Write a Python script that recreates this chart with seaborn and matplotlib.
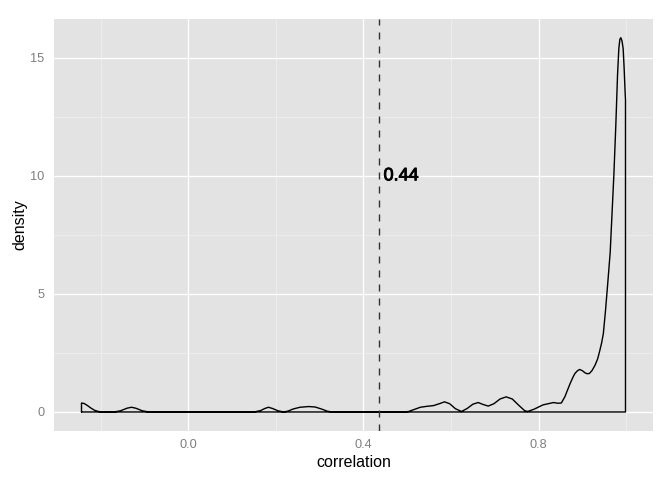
import matplotlib
matplotlib.use("Agg")
import matplotlib.pyplot as plt
import matplotlib.patheffects as pe
import seaborn as sns
import pandas as pd


# density curve (x = correlation, y = density)
corr_x = [-0.244, -0.238, -0.231, -0.222, -0.214, -0.205, -0.195, -0.170,
          -0.155, -0.140, -0.130, -0.120, -0.105, -0.090,
          0.150, 0.165, 0.175, 0.183, 0.192, 0.205, 0.218, 0.228, 0.240,
          0.255, 0.275, 0.290, 0.305, 0.318, 0.330,
          0.490, 0.503, 0.515, 0.530, 0.545, 0.560, 0.575, 0.585, 0.597,
          0.610, 0.624, 0.637, 0.650, 0.662, 0.673, 0.685, 0.698, 0.712,
          0.726, 0.740, 0.755, 0.768, 0.775, 0.790, 0.810, 0.834, 0.844,
          0.852, 0.860, 0.866, 0.872, 0.878, 0.883, 0.889, 0.894, 0.900,
          0.906, 0.911, 0.916, 0.922, 0.929, 0.935, 0.940, 0.944, 0.948,
          0.953, 0.958, 0.9636, 0.968, 0.972, 0.9765, 0.9804, 0.9834,
          0.9857, 0.9879, 0.9905, 0.9932, 0.9955, 0.9977, 0.9986]
corr_density = [0.38, 0.36, 0.28, 0.16, 0.07, 0.02, 0.0, 0.0,
                0.05, 0.16, 0.20, 0.16, 0.05, 0.0,
                0.0, 0.06, 0.15, 0.20, 0.15, 0.05, 0.0, 0.04, 0.13,
                0.20, 0.23, 0.21, 0.12, 0.03, 0.0,
                0.0, 0.02, 0.10, 0.20, 0.24, 0.27, 0.36, 0.43, 0.35,
                0.14, 0.02, 0.15, 0.33, 0.40, 0.32, 0.25, 0.35, 0.55,
                0.64, 0.55, 0.28, 0.06, 0.02, 0.12, 0.30, 0.40, 0.37,
                0.38, 0.64, 0.92, 1.20, 1.45, 1.63, 1.75, 1.80, 1.75,
                1.66, 1.62, 1.63, 1.75, 1.98, 2.25, 2.61, 2.92, 3.32,
                4.31, 5.44, 6.75, 8.47, 10.03, 12.15, 14.27, 15.40,
                15.78, 15.85, 15.72, 15.40, 14.55, 13.56, 13.20]

mean_corr = 0.436
label_y = 10

# close the outline like ggplot's density polygon
poly_x = [corr_x[0]] + corr_x + [corr_x[-1], corr_x[0]]
poly_y = [0] + corr_density + [0, 0]
df = pd.DataFrame({"correlation": poly_x, "density": poly_y})

sns.set_theme(style="darkgrid", rc={
    "axes.facecolor": "#E3E3E3",
    "grid.color": "white",
    "grid.linewidth": 1.0,
    "xtick.major.size": 4.25,
    "ytick.major.size": 4.25,
    "xtick.major.width": 0.8,
    "ytick.major.width": 0.8,
    "xtick.color": "#7F7F7F",
    "ytick.color": "#7F7F7F",
    "xtick.major.pad": 2,
    "ytick.major.pad": 3,
    "axes.labelcolor": "black",
})
plt.rcParams["font.family"] = ["Liberation Sans", "DejaVu Sans"]

fig = plt.figure(figsize=(7, 5), dpi=96)
ax = fig.add_axes([54.3 / 672, 1 - 430.7 / 480, 598.4 / 672, 411.7 / 480])

sns.lineplot(data=df, x="correlation", y="density", sort=False,
             estimator=None, color="black", linewidth=1.05, ax=ax)

ax.axvline(mean_corr, color="#333333", linewidth=1.05, dashes=(5, 5))
ax.text(mean_corr + 0.01, label_y, f"{mean_corr:.2f}", ha="left", va="center",
        fontsize=13.5, color="black",
        path_effects=[pe.withStroke(linewidth=0.7, foreground="black")])

xmin, xmax = min(corr_x), max(corr_x)
ymax = max(corr_density)
xr = xmax - xmin
ax.set_xlim(xmin - 0.05 * xr, xmax + 0.05 * xr)
ax.set_ylim(-0.05 * ymax, ymax * 1.05)

ax.set_xticks([0.0, 0.4, 0.8])
ax.set_xticklabels(["0.0", "0.4", "0.8"])
ax.set_xticks([-0.2, 0.2, 0.6, 1.0], minor=True)
ax.set_yticks([0, 5, 10, 15])
ax.set_yticks([2.5, 7.5, 12.5], minor=True)
ax.tick_params(which="minor", length=0)
ax.tick_params(which="major", labelsize=9.6, labelcolor="#7F7F7F")
ax.grid(which="minor", color="#F2F2F2", linewidth=0.5)
ax.grid(which="major", color="white", linewidth=1.0)
ax.set_axisbelow(True)
for s in ax.spines.values():
    s.set_visible(False)

ax.set_xlabel("correlation", fontsize=12, labelpad=3)
ax.set_ylabel("density", fontsize=12, labelpad=2)

fig.savefig("out.png", dpi=96)
